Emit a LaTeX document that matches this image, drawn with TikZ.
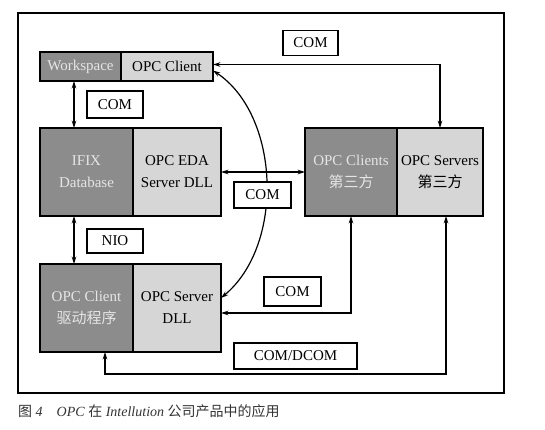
\documentclass[tikz,border=0pt]{standalone}
\usepackage{fontspec}
\setmainfont{Liberation Serif}
\newfontfamily\cjk{Noto Sans CJK SC}
\usetikzlibrary{arrows.meta,positioning}
\definecolor{darkbox}{HTML}{8C8C8C}
\definecolor{lightbox}{HTML}{D6D6D6}

\begin{document}
\begin{tikzpicture}[x=1pt, y=-1pt,
    part/.style={draw, line width=1.8pt, outer sep=0pt, minimum height=88pt, inner sep=2pt, align=center, font=\fontsize{15}{22}\selectfont},
    dark/.style={part, fill=darkbox, text=white!90!black},
    light/.style={part, fill=lightbox},
    tag/.style={draw, line width=1.4pt, fill=white, minimum height=25pt, inner sep=2pt, font=\fontsize{15}{16}\selectfont},
    link/.style={{Stealth[length=2.6mm,width=1.6mm]}-{Stealth[length=2.6mm,width=1.6mm]}, line width=1.2pt},
    node distance=0pt
  ]
  \useasboundingbox (0,0) rectangle (545,430);
  \draw[line width=1.3pt] (18,13) rectangle (504,393);

  % top row
  \node[dark, minimum height=29pt, minimum width=81pt, anchor=north west] (ws) at (40,52) {Workspace};
  \node[light, minimum height=29pt, minimum width=92pt, right=of ws] (opcc) {OPC Client};
  % middle row
  \node[dark, minimum width=93pt, anchor=north west] (ifix) at (40,128) {IFIX\\Database};
  \node[light, minimum width=88pt, right=of ifix] (eda) {OPC EDA\\Server DLL};
  \node[dark, minimum width=92pt, anchor=north west] (tpc) at (305,128) {OPC Clients\\{\cjk 第三方}};
  \node[light, minimum width=86pt, right=of tpc] (tps) {OPC Servers\\{\cjk 第三方}};
  % bottom row
  \node[dark, minimum width=93pt, anchor=north west] (drv) at (40,264) {OPC Client\\{\cjk 驱动程序}};
  \node[light, minimum width=88pt, right=of drv] (dll) {OPC Server\\DLL};

  \coordinate (lx) at (74,0);
  \coordinate (bl) at (105,374);
  \draw[link] ([yshift=2pt]opcc.east) -| (tps.north);
  \draw[link] (ws.south -| lx) -- (ifix.north -| lx);
  \draw[link] (eda) -- (tpc);
  \draw[link] (ifix.south -| lx) -- (drv.north -| lx);
  \draw[link] ([yshift=-4pt]opcc.east) .. controls (280,115) and (285,245) .. ([yshift=10pt]dll.east);
  \draw[link] (tpc.south) |- ([yshift=-5pt]dll.east);
  \draw[link] ([xshift=6pt]tps.south) |- (bl) -- (drv.south -| bl);

  % labels
  \node[tag, minimum width=55pt] (com1) at (310.5,43) {COM};
  \node[tag, minimum width=56pt, minimum height=27pt] (com2) at (115,104.5) {COM};
  \node[tag, minimum width=57pt, minimum height=26pt] (com3) at (262.5,195) {COM};
  \node[tag, minimum width=56pt, minimum height=24pt] (nio) at (115,241) {NIO};
  \node[tag, minimum width=57pt, minimum height=29pt] (com4) at (292.5,291.5) {COM};
  \node[tag, minimum width=123pt, minimum height=26pt] (comd) at (295.5,356) {COM/DCOM};

  \node[anchor=west, inner sep=0pt, text=black!80, font=\fontsize{14}{16}\selectfont] (cap) at (18,411)
    {{\cjk 图} \textit{4}\quad \textit{OPC} {\cjk 在} \textit{Intellution} {\cjk 公司产品中的应用}};
\end{tikzpicture}
\end{document}
